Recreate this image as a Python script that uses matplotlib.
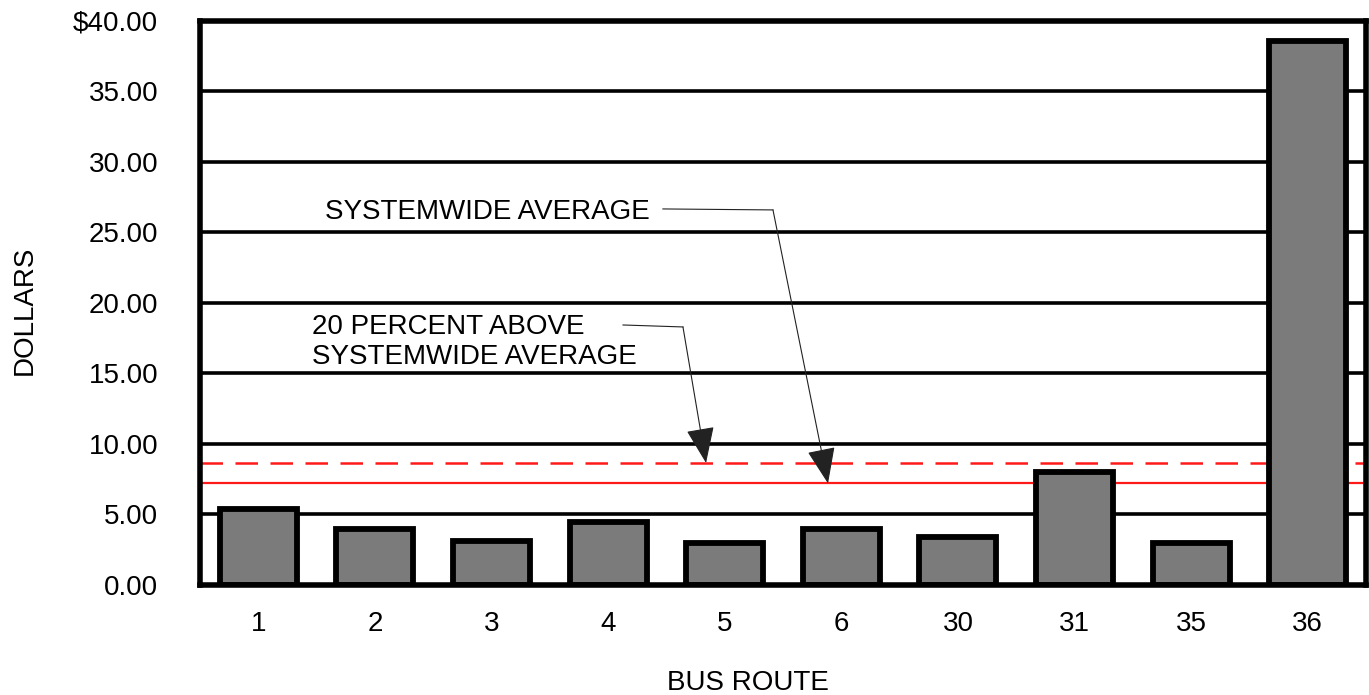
import matplotlib
matplotlib.use("Agg")
import matplotlib.pyplot as plt

plt.rcParams['font.family'] = ['Liberation Sans', 'DejaVu Sans']

routes = ["1", "2", "3", "4", "5", "6", "30", "31", "35", "36"]
cost = [5.4, 4.0, 3.1, 4.5, 3.0, 4.0, 3.4, 8.0, 3.0, 38.6]
systemwide_avg = 7.2
avg_plus_20 = 8.65
yticks = [0, 5, 10, 15, 20, 25, 30, 35, 40]
ytick_labels = ["0.00", "5.00", "10.00", "15.00", "20.00", "25.00", "30.00", "35.00", "$40.00"]

fig = plt.figure(figsize=(13.69, 6.95), dpi=100)
ax = fig.add_axes([0.1461, 0.1583, 0.8517, 0.8115])

x = list(range(len(routes)))
ax.set_xlim(-0.5, len(routes) - 0.5)
ax.set_ylim(0, 40)

for yv in yticks[1:-1]:
    ax.axhline(yv, color='black', lw=2.6, zorder=1)

ax.axhline(systemwide_avg, color='#ff1a1a', lw=1.6, zorder=1.5)
ax.axhline(avg_plus_20, color='#ff1a1a', lw=1.8, ls=(0, (9, 5)), zorder=1.5)

ax.bar(x, cost, width=0.66, color='#7b7b7b', edgecolor='black', linewidth=4.2, zorder=2)

ax.set_xticks(x)
ax.set_xticklabels(routes, fontsize=20)
ax.set_yticks(yticks)
ax.set_yticklabels(ytick_labels, fontsize=20)
ax.tick_params(axis='both', length=0)
ax.tick_params(axis='y', pad=30)
ax.tick_params(axis='x', pad=19)

for s in ax.spines.values():
    s.set_linewidth(4)
    s.set_color('black')
    s.set_zorder(3)

# annotations
ax.text(0.572, 26.45, "SYSTEMWIDE AVERAGE", fontsize=20, ha='left', va='center', zorder=4)
ax.text(0.46, 17.2, "20 PERCENT ABOVE\nSYSTEMWIDE AVERAGE", fontsize=20, ha='left', va='center',
        linespacing=1.2, zorder=4)

ap = dict(arrowstyle='-|>,head_length=1.15,head_width=0.45', lw=0.8, color='#222222',
          mutation_scale=20, shrinkA=0, shrinkB=0)
ax.plot([3.47, 4.414], [26.67, 26.6], color='#222222', lw=0.8, zorder=4)
ax.annotate("", xy=(4.886, systemwide_avg), xytext=(4.414, 26.6), arrowprops=ap, zorder=4)
ax.plot([3.128, 3.642], [18.44, 18.3], color='#222222', lw=0.8, zorder=4)
ax.annotate("", xy=(3.84, avg_plus_20), xytext=(3.642, 18.3), arrowprops=ap, zorder=4)

fig.text(0.5464, 0.017, "BUS ROUTE", fontsize=20, ha='center', va='center')
fig.text(0.018, 0.554, "DOLLARS", fontsize=20, ha='center', va='center', rotation=90)

fig.savefig("out.png", dpi=100, facecolor='white')
